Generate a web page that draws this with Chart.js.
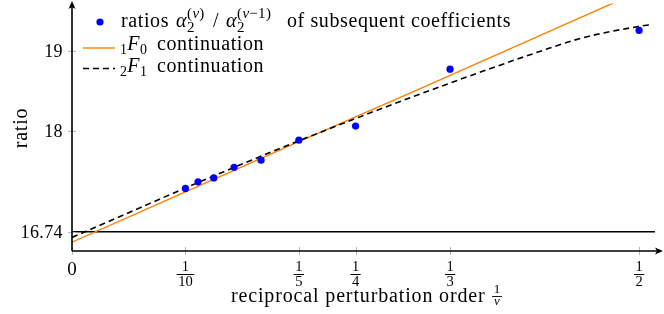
<!DOCTYPE html>
<html>
<head>
<meta charset="utf-8">
<script src="https://cdn.jsdelivr.net/npm/chart.js@4"></script>
<style>
  html, body { margin: 0; padding: 0; background: #fff; }
  #wrap { width: 664px; height: 314px; }
</style>
</head>
<body>
<div id="wrap"><canvas id="chart" width="664" height="314"></canvas></div>
<script>
// reciprocal order 1/nu and the measured ratios
const orderX = [0.1, 0.1111, 0.125, 0.1429, 0.1667, 0.2, 0.25, 0.3333, 0.5];
const ratioValues = [17.284, 17.367, 17.416, 17.548, 17.638, 17.889, 18.065, 18.778, 19.264];

// 1F0 continuation
const f10X = [0, 0.1, 0.2, 0.3, 0.4, 0.514];
const f10Values = [16.61, 17.24, 17.87, 18.49, 19.12, 19.84];

// 2F1 continuation
const f21X = [0, 0.05, 0.1, 0.15, 0.2, 0.25, 0.3, 0.35, 0.4, 0.45, 0.5, 0.512];
const f21Values = [16.67, 16.98, 17.29, 17.59, 17.88, 18.16, 18.43, 18.69, 18.94, 19.17, 19.315, 19.34];

const limitValue = 16.74;

const xTicks = [0, 0.1, 0.2, 0.25, 0.3333, 0.5];
const xTickDenoms = [null, "10", "5", "4", "3", "2"];
const yTicks = [16.74, 18, 19];
const yTickLabels = ["16.74", "18", "19"];

const serif = '"Liberation Serif", "Times New Roman", serif';

function toPoints(xs, ys) {
  return xs.map(function (x, i) {
    return { x: x, y: ys[i] };
  });
}

function drawParts(ctx, x, y, parts) {
  parts.forEach(function (p) {
    ctx.font = (p.italic ? "italic " : "") + p.size + "px " + serif;
    ctx.letterSpacing = p.size >= 18 ? "0.6px" : "0.3px";
    if (p.x !== undefined) {
      x = p.x;
    }
    ctx.fillText(p.text, x, y + (p.dy || 0));
    if (!p.keep) {
      x += ctx.measureText(p.text).width;
    }
  });
  ctx.letterSpacing = "0px";
}

function arrow(ctx, x, y, dir) {
  ctx.beginPath();
  if (dir === "up") {
    ctx.moveTo(x, y);
    ctx.lineTo(x - 3.5, y + 8);
    ctx.lineTo(x, y + 6);
    ctx.lineTo(x + 3.5, y + 8);
  } else {
    ctx.moveTo(x, y);
    ctx.lineTo(x - 8, y - 3.5);
    ctx.lineTo(x - 6, y);
    ctx.lineTo(x - 8, y + 3.5);
  }
  ctx.closePath();
  ctx.fill();
}

const axesPlugin = {
  id: "axes",
  afterDatasetsDraw(chart) {
    const ctx = chart.ctx;
    const xs = chart.scales.x;
    const ys = chart.scales.y;
    const area = chart.chartArea;
    const x0 = Math.round(xs.getPixelForValue(0));
    const y0 = Math.round(area.bottom);

    ctx.save();

    // tick marks
    ctx.strokeStyle = "#b8b8b8";
    ctx.lineWidth = 1;
    xTicks.forEach(function (v) {
      const px = Math.round(xs.getPixelForValue(v)) + 0.5;
      ctx.beginPath();
      ctx.moveTo(px, y0 - 4);
      ctx.lineTo(px, y0 + 4);
      ctx.stroke();
    });
    yTicks.forEach(function (v) {
      const py = Math.round(ys.getPixelForValue(v)) + 0.5;
      ctx.beginPath();
      ctx.moveTo(x0 - 4, py);
      ctx.lineTo(x0 + 4, py);
      ctx.stroke();
    });

    // axis lines with arrows
    ctx.strokeStyle = "#000";
    ctx.fillStyle = "#000";
    ctx.lineWidth = 1.6;
    ctx.beginPath();
    ctx.moveTo(x0, y0);
    ctx.lineTo(x0, 4);
    ctx.moveTo(x0, y0);
    ctx.lineTo(659, y0);
    ctx.stroke();
    arrow(ctx, x0, 1, "up");
    arrow(ctx, 663, y0, "right");

    // y tick labels
    ctx.textAlign = "right";
    ctx.textBaseline = "middle";
    ctx.font = "18px " + serif;
    ctx.letterSpacing = "0.4px";
    yTicks.forEach(function (v, i) {
      ctx.fillText(yTickLabels[i], 63, ys.getPixelForValue(v) + 1);
    });
    ctx.letterSpacing = "0px";

    // x tick labels (fractions)
    ctx.textAlign = "center";
    xTicks.forEach(function (v, i) {
      const px = xs.getPixelForValue(v);
      if (xTickDenoms[i] === null) {
        ctx.font = "19px " + serif;
        ctx.fillText("0", px, 270);
        return;
      }
      ctx.font = "14.5px " + serif;
      ctx.fillText("1", px, 267.5);
      ctx.fillText(xTickDenoms[i], px, 282.5);
      const w = Math.max(ctx.measureText(xTickDenoms[i]).width, 7) + 3;
      ctx.fillRect(px - w / 2, 274, w, 1);
    });

    // axis titles
    ctx.save();
    ctx.translate(22, 128);
    ctx.rotate(-Math.PI / 2);
    ctx.font = "20px " + serif;
    ctx.letterSpacing = "0.8px";
    ctx.fillText("ratio", 0, 0);
    ctx.restore();

    ctx.textAlign = "left";
    ctx.textBaseline = "alphabetic";
    ctx.font = "20px " + serif;
    ctx.letterSpacing = "0.85px";
    ctx.fillText("reciprocal perturbation order", 231, 302);
    ctx.letterSpacing = "0px";
    ctx.textAlign = "center";
    ctx.textBaseline = "middle";
    ctx.font = "13px " + serif;
    ctx.fillText("1", 497, 289.5);
    ctx.font = "italic 13px " + serif;
    ctx.fillText("ν", 497, 302);
    ctx.fillRect(492, 296, 10, 0.9);

    // legend
    ctx.textAlign = "left";
    ctx.textBaseline = "alphabetic";
    ctx.fillStyle = "#0000ff";
    ctx.beginPath();
    ctx.arc(100, 22, 3.6, 0, Math.PI * 2);
    ctx.fill();

    ctx.strokeStyle = "#ff8000";
    ctx.lineWidth = 1.4;
    ctx.beginPath();
    ctx.moveTo(83, 48);
    ctx.lineTo(115, 48);
    ctx.stroke();

    ctx.strokeStyle = "#000";
    ctx.lineWidth = 1.6;
    ctx.setLineDash([6, 4]);
    ctx.beginPath();
    ctx.moveTo(83, 68.5);
    ctx.lineTo(115, 68.5);
    ctx.stroke();
    ctx.setLineDash([]);

    ctx.fillStyle = "#000";
    drawParts(ctx, 121, 27, [
      { text: "ratios", size: 20 },
      { text: "α", size: 20, italic: true, x: 176 },
      { text: "2", size: 15, dy: 5, keep: true },
      { text: "(", size: 15, dy: -9 },
      { text: "ν", size: 15, italic: true, dy: -9 },
      { text: ")", size: 15, dy: -9 },
      { text: "/", size: 20, x: 213 },
      { text: "α", size: 20, italic: true, x: 226 },
      { text: "2", size: 15, dy: 5, keep: true },
      { text: "(", size: 15, dy: -9 },
      { text: "ν", size: 15, italic: true, dy: -9 },
      { text: "−1)", size: 15, dy: -9 },
      { text: "of subsequent coefficients", size: 20, x: 287 }
    ]);
    drawParts(ctx, 120, 50, [
      { text: "1", size: 14, dy: 4 },
      { text: "F", size: 20, italic: true },
      { text: "0", size: 14, dy: 4 },
      { text: "continuation", size: 20, x: 157 }
    ]);
    drawParts(ctx, 120, 72, [
      { text: "2", size: 14, dy: 4 },
      { text: "F", size: 20, italic: true },
      { text: "1", size: 14, dy: 4 },
      { text: "continuation", size: 20, x: 157 }
    ]);

    ctx.restore();
  }
};

new Chart(document.getElementById("chart"), {
  type: "scatter",
  data: {
    datasets: [
      {
        label: "ratios",
        data: toPoints(orderX, ratioValues),
        pointRadius: 3.6,
        pointHoverRadius: 3.6,
        pointBackgroundColor: "#0000ff",
        pointBorderWidth: 0,
        showLine: false
      },
      {
        label: "2F1 continuation",
        data: toPoints(f21X, f21Values),
        showLine: true,
        borderColor: "#000",
        borderWidth: 1.6,
        borderDash: [6, 4],
        cubicInterpolationMode: "monotone",
        pointRadius: 0
      },
      {
        label: "1F0 continuation",
        data: toPoints(f10X, f10Values),
        showLine: true,
        borderColor: "#ff8000",
        borderWidth: 1.4,
        pointRadius: 0
      },
      {
        label: "limit",
        data: toPoints([0, 0.514], [limitValue, limitValue]),
        showLine: true,
        borderColor: "#000",
        borderWidth: 1.5,
        pointRadius: 0
      }
    ]
  },
  options: {
    responsive: false,
    animation: false,
    layout: {
      padding: { left: 72, right: 9, top: 0, bottom: 63 }
    },
    plugins: {
      legend: { display: false },
      tooltip: { enabled: false }
    },
    scales: {
      x: { type: "linear", min: 0, max: 0.514, display: false },
      y: { type: "linear", min: 16.5, max: 19.6, display: false }
    }
  },
  plugins: [axesPlugin]
});
</script>
</body>
</html>
